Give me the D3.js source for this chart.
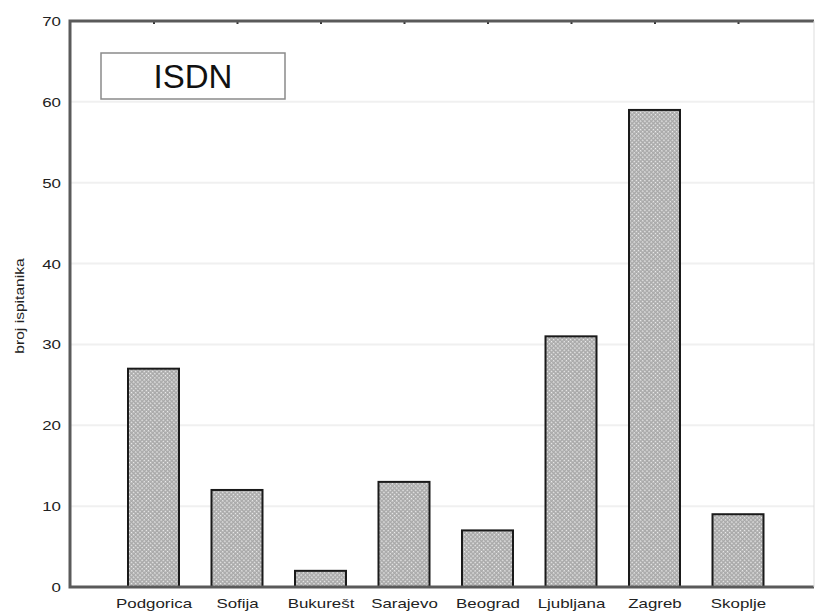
<!DOCTYPE html>
<html>
<head>
<meta charset="utf-8">
<script src="https://cdn.jsdelivr.net/npm/d3@7"></script>
<style>
  html, body { margin: 0; padding: 0; background: #fff; }
  svg { display: block; }
  text { font-family: "Liberation Sans", Arial, sans-serif; }
</style>
</head>
<body>
<div id="chart"></div>
<script>
// Respondents per city
const categories = ["Podgorica", "Sofija", "Bukurešt", "Sarajevo", "Beograd", "Ljubljana", "Zagreb", "Skoplje"];
const values = [27, 12, 2, 13, 7, 31, 59, 9];
const yTicks = [0, 10, 20, 30, 40, 50, 60, 70];
const yLabel = "broj ispitanika";
const title = "ISDN";

const W = 815, H = 616;
const plotLeft = 70, plotRight = 814, plotTop = 21, plotBottom = 587;
const step = 83.5;
const stretch = 1.3;   // wide lettering of the labels

const svg = d3.select("#chart").append("svg")
  .attr("width", W).attr("height", H);

// Fine cross-hatch used to fill the bars
const defs = svg.append("defs");
const pat = defs.append("pattern")
  .attr("id", "hatch")
  .attr("patternUnits", "userSpaceOnUse")
  .attr("width", 3).attr("height", 3)
  .attr("patternTransform", "rotate(45)");
pat.append("rect").attr("width", 3).attr("height", 3).attr("fill", "#a9a9a9");
pat.append("rect").attr("x", 1).attr("y", 1).attr("width", 1.4).attr("height", 1.4).attr("fill", "#f2f2f2");

const x = d3.scalePoint()
  .domain(categories)
  .range([plotLeft + step, plotLeft + step * categories.length]);

const y = d3.scaleLinear()
  .domain([0, 70])
  .range([plotBottom, plotTop]);

const barW = 51;

// Horizontal grid lines
svg.append("g")
  .selectAll("line")
  .data(yTicks.filter(t => t > 0 && t < 70))
  .join("line")
  .attr("x1", plotLeft).attr("x2", plotRight)
  .attr("y1", d => y(d)).attr("y2", d => y(d))
  .attr("stroke", "#f0f0f0")
  .attr("stroke-width", 2);

// Bars
svg.append("g")
  .selectAll("rect")
  .data(categories.map((c, i) => ({ c, v: values[i] })))
  .join("rect")
  .attr("x", d => x(d.c) - barW / 2)
  .attr("y", d => y(d.v))
  .attr("width", barW)
  .attr("height", d => y(0) - y(d.v))
  .attr("fill", "url(#hatch)")
  .attr("stroke", "#1a1a1a")
  .attr("stroke-width", 2);

// Left axis
const yAxis = d3.axisLeft(y).tickValues(yTicks).tickSize(0).tickPadding(9);
const gy = svg.append("g").attr("transform", `translate(${plotLeft},0)`).call(yAxis);
gy.select(".domain").remove();
gy.selectAll("text")
  .attr("font-size", 13)
  .attr("fill", "#222")
  .attr("x", -9 / stretch)
  .attr("dy", "0.35em")
  .attr("transform", `scale(${stretch},1)`);

// Bottom axis labels
const xAxis = d3.axisBottom(x).tickSize(0);
const gx = svg.append("g").attr("transform", `translate(0,${plotBottom})`).call(xAxis);
gx.select(".domain").remove();
gx.selectAll("text")
  .attr("font-size", 13)
  .attr("fill", "#222")
  .attr("y", 21)
  .attr("dy", 0)
  .attr("transform", `scale(${stretch},1)`);

// Top axis ticks (inward)
const xTop = d3.axisTop(x).tickSize(-3).tickFormat("");
const gt = svg.append("g").attr("transform", `translate(0,${plotTop})`).call(xTop);
gt.select(".domain").remove();
gt.selectAll("line").attr("stroke", "#333").attr("stroke-width", 2);

// Frame
svg.append("path")
  .attr("d", `M${plotRight},${plotTop} L${plotLeft},${plotTop} L${plotLeft},${plotBottom} L${plotRight},${plotBottom}`)
  .attr("fill", "none")
  .attr("stroke", "#5a5a5a")
  .attr("stroke-width", 3);
svg.append("line")
  .attr("x1", plotRight).attr("x2", plotRight).attr("y1", plotTop).attr("y2", plotBottom)
  .attr("stroke", "#ddd").attr("stroke-width", 1);

// Y axis title
svg.append("text")
  .attr("transform", `translate(24,306) rotate(-90) scale(${stretch},1)`)
  .attr("text-anchor", "middle")
  .attr("font-size", 12)
  .attr("fill", "#222")
  .text(yLabel);

// Title box
svg.append("rect")
  .attr("x", 101).attr("y", 53)
  .attr("width", 184).attr("height", 46)
  .attr("fill", "#fff")
  .attr("stroke", "#8a8a8a")
  .attr("stroke-width", 1.5);
svg.append("text")
  .attr("x", 193).attr("y", 88)
  .attr("text-anchor", "middle")
  .attr("font-size", 33)
  .attr("fill", "#111")
  .text(title);
</script>
</body>
</html>
